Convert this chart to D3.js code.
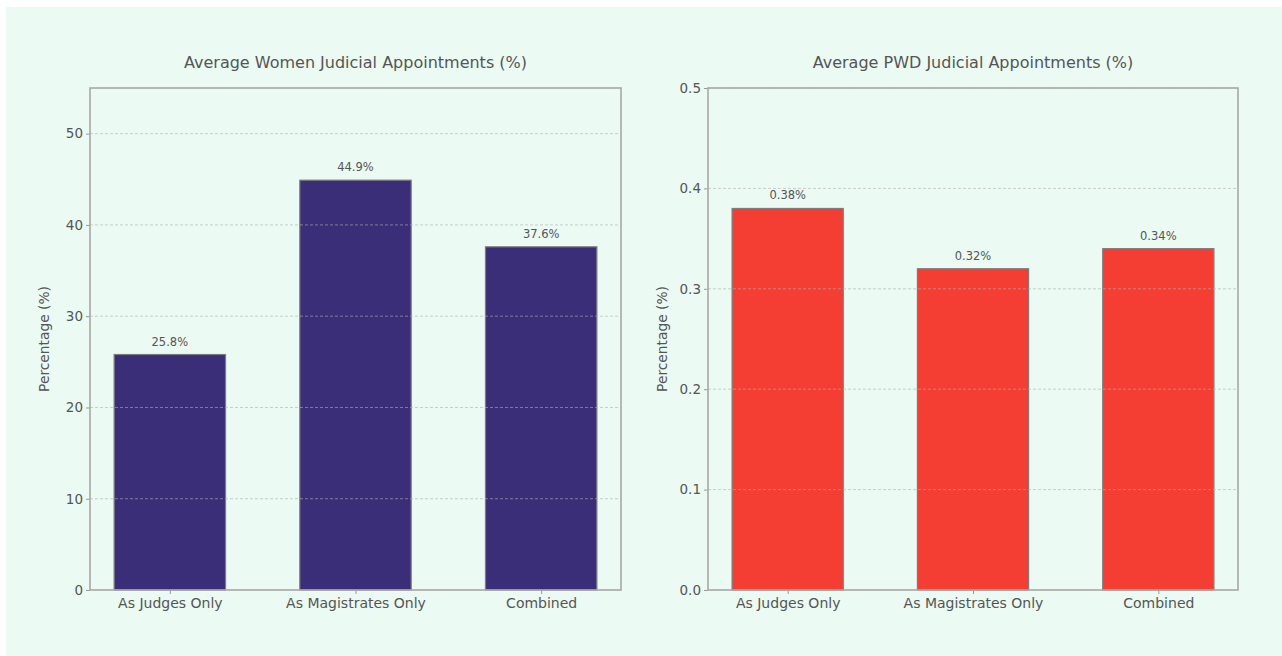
<!DOCTYPE html>
<html>
<head>
<meta charset="utf-8">
<script src="https://cdn.jsdelivr.net/npm/d3@7"></script>
<style>
  html, body { margin: 0; padding: 0; background: #ffffff; }
  svg { display: block; }
  text { font-family: "DejaVu Sans", "Open Sans", sans-serif; fill: #555; }
</style>
</head>
<body>
<svg id="chart" width="1282" height="656"></svg>
<script>
const categories = ["As Judges Only", "As Magistrates Only", "Combined"];
const womenValues = [25.8, 44.9, 37.6];
const pwdValues = [0.38, 0.32, 0.34];
const womenTicks = [0, 10, 20, 30, 40, 50];
const pwdTicks = [0.0, 0.1, 0.2, 0.3, 0.4, 0.5];
const womenLabels = ["25.8%", "44.9%", "37.6%"];
const pwdLabels = ["0.38%", "0.32%", "0.34%"];

const svg = d3.select("#chart");
svg.append("rect").attr("x", 6).attr("y", 7).attr("width", 1276).attr("height", 649).attr("fill", "#ebfaf2");

function panel(opts) {
  const {x0, x1, y0, y1, values, labels, ticks, ymax, color, title, tickFmt} = opts;
  const g = svg.append("g");
  const x = d3.scaleLinear().domain([-0.43, 2.43]).range([x0, x1]);
  const y = d3.scaleLinear().domain([0, ymax]).range([y1, y0]);
  const bw = x(0.6) - x(0);

  // bars
  g.selectAll("rect.bar").data(values).enter().append("rect")
    .attr("x", (d, i) => x(i - 0.3))
    .attr("y", d => y(d))
    .attr("width", bw)
    .attr("height", d => y(0) - y(d))
    .attr("fill", color)
    .attr("stroke", "#7d7d80")
    .attr("stroke-width", 1.2);

  // grid (drawn over bars)
  g.selectAll("line.grid").data(ticks.filter(t => t > 0)).enter().append("line")
    .attr("x1", x0).attr("x2", x1)
    .attr("y1", d => y(d)).attr("y2", d => y(d))
    .attr("stroke", "#b0b0b0").attr("stroke-opacity", 0.6)
    .attr("stroke-width", 1).attr("stroke-dasharray", "3,2");

  // y axis
  const ya = d3.axisLeft(y).tickValues(ticks).tickFormat(tickFmt).tickSize(4).tickPadding(3);
  const yg = g.append("g").attr("transform", `translate(${x0},0)`).call(ya);
  yg.select(".domain").remove();
  yg.selectAll("line").attr("stroke", "#999");
  yg.selectAll("text").attr("font-size", 13.5).style("fill", "#555");

  // x axis
  const xa = d3.axisBottom(x).tickValues([0, 1, 2]).tickFormat(i => categories[i]).tickSize(4).tickPadding(4);
  const xg = g.append("g").attr("transform", `translate(0,${y1})`).call(xa);
  xg.select(".domain").remove();
  xg.selectAll("line").attr("stroke", "#999");
  xg.selectAll("text").attr("font-size", 14).style("fill", "#555");

  // frame
  g.append("rect").attr("x", x0).attr("y", y0).attr("width", x1 - x0).attr("height", y1 - y0)
    .attr("fill", "none").attr("stroke", "#a8a8a8").attr("stroke-width", 1.6);

  // value labels
  g.selectAll("text.val").data(values).enter().append("text")
    .attr("x", (d, i) => x(i))
    .attr("y", d => y(d) - 9)
    .attr("text-anchor", "middle")
    .attr("font-size", 11.5)
    .text((d, i) => labels[i]);

  // title
  g.append("text").attr("x", (x0 + x1) / 2).attr("y", 68)
    .attr("text-anchor", "middle").attr("font-size", 16).text(title);

  // y label
  g.append("text").attr("transform", `translate(${x0 - 41},${(y0 + y1) / 2}) rotate(-90)`)
    .attr("text-anchor", "middle").attr("font-size", 13.8).text("Percentage (%)");
}

panel({x0: 90, x1: 621, y0: 88, y1: 590, values: womenValues, labels: womenLabels, ticks: womenTicks,
  ymax: 55, color: "#3b2e78", title: "Average Women Judicial Appointments (%)", tickFmt: d3.format("d")});
panel({x0: 708, x1: 1238, y0: 88, y1: 590, values: pwdValues, labels: pwdLabels, ticks: pwdTicks,
  ymax: 0.5, color: "#f43e33", title: "Average PWD Judicial Appointments (%)", tickFmt: d3.format(".1f")});
</script>
</body>
</html>
